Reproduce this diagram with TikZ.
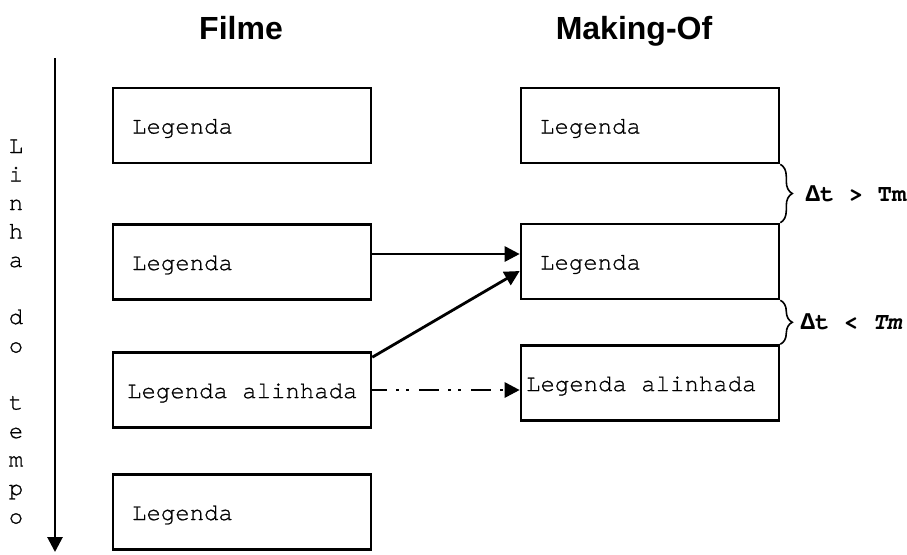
\documentclass[tikz,border=0pt]{standalone}
\usepackage{fontspec}
\newfontfamily\monof[Extension=.otf,UprightFont=texgyrecursor-regular,BoldFont=texgyrecursor-bold,ItalicFont=texgyrecursor-italic,BoldItalicFont=texgyrecursor-bolditalic,UprightFeatures={FakeBold=0.8}]{texgyrecursor}
\newfontfamily\deltaf{Liberation Mono}
\newfontfamily\sansf{Liberation Sans}
\usetikzlibrary{arrows.meta,decorations.pathreplacing,calc}
\begin{document}
\begin{tikzpicture}[x=0.5pt,y=-0.5pt,
  box/.style={draw, line width=1.3pt, minimum width=129pt, minimum height=37.5pt, inner sep=0pt},
  txt/.style={font=\monof\fontsize{12}{14}\selectfont, inner sep=0pt, anchor=west, yshift=-1.5pt},
  ttl/.style={font=\sansf\bfseries\fontsize{16}{19}\selectfont, inner sep=0pt, anchor=base},
  vt/.style={font=\monof\fontsize{12}{14}\selectfont, inner sep=0pt, anchor=base},
  conn/.style={line width=1.4pt, -{Triangle[length=7.5pt,width=7.5pt]}},
  dashdot/.style={dash pattern=on 10pt off 4.5pt on 1.5pt off 3.5pt on 1.5pt off 5pt, dash phase=2.5pt},
  brc/.style={decorate, decoration={brace, amplitude=6pt}, line width=0.8pt},
  lbl/.style={font=\monof\bfseries\fontsize{12}{14}\selectfont, inner sep=0pt, anchor=west}]
\useasboundingbox (0,0) rectangle (907,554);

% titles
\node[ttl] (tf) at (241,39) {Filme};
\node[ttl] (tm) at (634,39) {Making-Of};

% time line
\coordinate (tl0) at (55,58);
\coordinate (tl1) at (55,552);
\draw[conn] (tl0) -- (tl1);
\foreach \ch/\i in {L/0,i/1,n/2,h/3,a/4,d/6,o/7,t/9,e/10,m/11,p/12,o/13}
  \node[vt] (v\i) at (16,{153+28.5*\i}) {\ch};

% left column
\node[box] (l1) at (242,125.5) {};
\node[box] (l2) at (242,262) {};
\node[box] (l3) at (242,390) {};
\node[box] (l4) at (242,512) {};
\node[txt] (tl1t) at ([xshift=10pt]l1.west) {Legenda};
\node[txt] (tl2t) at ([xshift=10pt]l2.west) {Legenda};
\node[txt] (tl3t) at ([xshift=7.5pt]l3.west) {Legenda alinhada};
\node[txt] (tl4t) at ([xshift=10pt]l4.west) {Legenda};

% right column
\node[box] (r1) at (650,125.5) {};
\node[box] (r2) at (650,261.5) {};
\node[box] (r3) at (650,383) {};
\node[txt] (tr1t) at ([xshift=10pt]r1.west) {Legenda};
\node[txt] (tr2t) at ([xshift=10pt]r2.west) {Legenda};
\node[txt] (tr3t) at ([xshift=3pt]r3.west) {Legenda alinhada};

% connectors
\draw[conn] ([yshift=4pt]l2.east) -- ([yshift=4pt]l2.east -| r2.west);
\draw[conn] ([yshift=-3pt]l3.north east) -- ([yshift=-4.75pt]r2.west);
\draw[conn, dashdot] (l3.east) -- (l3.east -| r3.west);

% braces
\draw[brc] (r1.south east) -- (r2.north east);
\draw[brc] (r2.south east) -- (r3.north east);
\node[lbl] (d1) at ([xshift=12.5pt]$(r1.south east)!0.5!(r2.north east)$) {{\deltaf Δ}t > Tm};
\node[lbl] (d2) at ([xshift=10pt]$(r2.south east)!0.5!(r3.north east)$) {{\deltaf Δ}t < \textit{Tm}};
\end{tikzpicture}
\end{document}
